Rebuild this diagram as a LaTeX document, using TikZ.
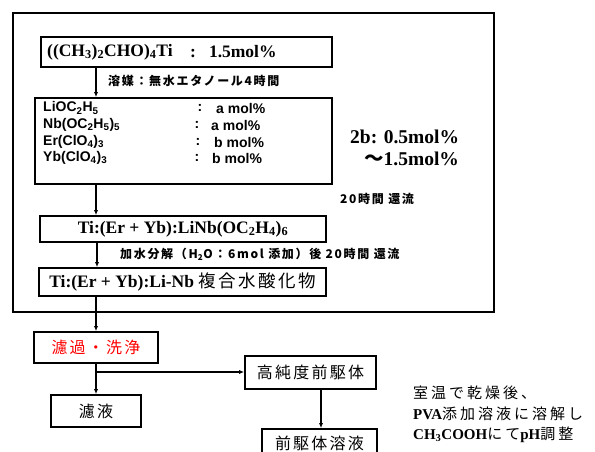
\documentclass[tikz,border=0pt]{standalone}
\usepackage{fontspec}
\setmainfont{Liberation Serif}
\newfontfamily\arial{Liberation Sans}
\newfontfamily\jp{Noto Sans CJK JP}
\newfontfamily\jpsp{Noto Sans CJK JP}[LetterSpace=14]
\newfontfamily\jpwide{Noto Sans CJK JP}[LetterSpace=20]
\usetikzlibrary{arrows.meta}
\tikzset{
  box/.style={draw, line width=1.6pt, inner sep=0pt, anchor=center},
  conn/.style={line width=1.3pt, -{Latex[length=5pt,width=4pt]}},
  plain/.style={inner sep=0pt},
  serifbig/.style={font=\bfseries\fontsize{17.5}{17.5}\selectfont},
  lbl/.style={plain, anchor=west, font=\jpsp\bfseries\fontsize{12}{12}\selectfont},
  jpbox/.style={box, font=\jpsp\fontsize{16}{16}\selectfont},
}
\begin{document}
\begin{tikzpicture}[x=1pt,y=-1pt]
\useasboundingbox (0,0) rectangle (595,452);
% outer frame
\draw[line width=1.4pt] (13,13) rectangle (494,312);
% box1
\node[box, minimum width=291pt, minimum height=30pt] (b1) at (186.5,52) {};
\node[plain, anchor=west, serifbig] (t1a) at (47,52) {((CH\textsubscript{3})\textsubscript{2}CHO)\textsubscript{4}Ti};
\node[plain, anchor=west, serifbig] (t1b) at (190,52) {:\hspace{13pt}1.5mol\%};
% label 1
\node[lbl] (l1) at (108,81) {溶媒：無水エタノール4時間};
% box2
\node[box, minimum width=297pt, minimum height=86pt] (b2) at (183.5,141) {};
\begin{scope}[every node/.style={plain, font=\arial\bfseries\fontsize{14}{14}\selectfont}]
\node[anchor=west] (r1n) at (43,108) {LiOC\textsubscript{2}H\textsubscript{5}};
\node[anchor=west] (r2n) at (43,125) {Nb(OC\textsubscript{2}H\textsubscript{5})\textsubscript{5}};
\node[anchor=west] (r3n) at (43,142) {Er(ClO\textsubscript{4})\textsubscript{3}};
\node[anchor=west] (r4n) at (43,158) {Yb(ClO\textsubscript{4})\textsubscript{3}};
\node (r1c) at (200,108) {:};
\node (r2c) at (197,125) {:};
\node (r3c) at (198,142) {:};
\node (r4c) at (197,158) {:};
\node[anchor=west] (r1v) at (216,108) {a mol\%};
\node[anchor=west] (r2v) at (211,125) {a mol\%};
\node[anchor=west] (r3v) at (214,142) {b mol\%};
\node[anchor=west] (r4v) at (212,158) {b mol\%};
\end{scope}
% 2b text
\node[plain, anchor=west, font=\bfseries\fontsize{19.5}{19.5}\selectfont] (tb1) at (350,137) {2b: 0.5mol\%};
\node[plain, anchor=west, font=\bfseries\fontsize{19.5}{19.5}\selectfont] (tb2) at (364,159) {{\jp\bfseries ～}1.5mol\%};
% label 2
\node[lbl] (l2) at (340,199) {20時間 還流};
% box3
\node[box, minimum width=286pt, minimum height=26pt, serifbig] (b3) at (183,229) {Ti:(Er + Yb):LiNb(OC\textsubscript{2}H\textsubscript{4})\textsubscript{6}};
% label 3
\node[lbl] (l3) at (120,254) {加水分解（H\textsubscript{2}O：6mol 添加）後 20時間 還流};
% box4
\node[box, minimum width=287pt, minimum height=28pt, serifbig] (b4) at (182.5,282) {Ti:(Er + Yb):Li-Nb {\jpsp\mdseries 複合水酸化物}};
% lower boxes
\node[jpbox, minimum width=124pt, minimum height=31pt, text=red] (b5) at (96,347.5) {濾過・洗浄};
\node[jpbox, minimum width=90pt, minimum height=32pt] (b6) at (96,411) {濾液};
\node[jpbox, minimum width=131pt, minimum height=33pt] (b7) at (310.5,372.5) {高純度前駆体};
\node[jpbox, minimum width=115pt, minimum height=28pt] (b8) at (319.5,443) {前駆体溶液};
% right text
\begin{scope}[every node/.style={plain, anchor=west, font=\jpwide\fontsize{15}{15}\selectfont}]
\node (n1) at (413,393) {室温で乾燥後、};
\node (n2) at (413,414) {{\rmfamily\bfseries PVA}添加溶液に溶解し};
\node (n3) at (413,435) {{\rmfamily\bfseries CH\textsubscript{3}COOH}にて{\rmfamily\bfseries pH}調整};
\end{scope}
% connectors
\coordinate (s1) at (96,67);
\draw[conn] (s1) -- (s1 |- b2.north);
\coordinate (s2) at (96,184);
\draw[conn] (s2) -- (s2 |- b3.north);
\coordinate (s3) at (97,242);
\draw[conn] (s3) -- (s3 |- b4.north);
\coordinate (s4) at (96,296);
\draw[conn] (s4) -- (s4 |- b5.north);
\draw[conn] (b5.south) -- (b6.north);
\coordinate (br) at (96,372);
\draw[conn] (br) -- (br -| b7.west);
\coordinate (s7) at (321,389);
\draw[conn] (s7) -- (s7 |- b8.north);
\end{tikzpicture}
\end{document}
